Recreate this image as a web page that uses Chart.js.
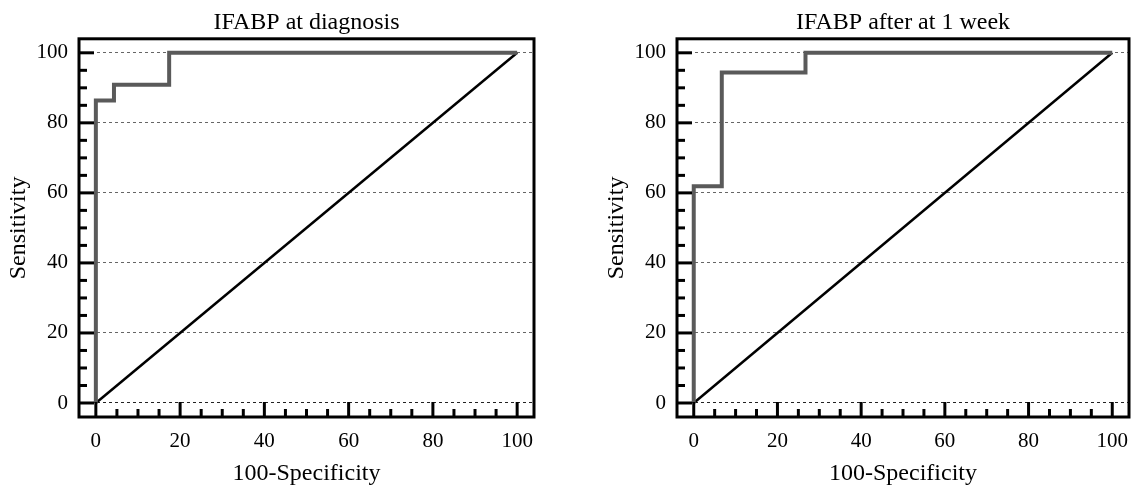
<!DOCTYPE html>
<html>
<head>
<meta charset="utf-8">
<script src="https://cdn.jsdelivr.net/npm/chart.js@4.4.1/dist/chart.umd.min.js"></script>
<style>
  html, body { margin: 0; padding: 0; background: #fff; }
  #wrap { position: relative; width: 1137px; height: 488px; }
  canvas { position: absolute; top: 0; }
</style>
</head>
<body>
<div id="wrap">
  <canvas id="left" width="568" height="488" style="left:0"></canvas>
  <canvas id="right" width="569" height="488" style="left:568px"></canvas>
</div>
<script>
// ROC points (100-specificity, sensitivity)
const diagFpr = [0, 0, 4.3, 17.4, 100];
const diagSens = [0, 86.4, 90.9, 100, 100];
const weekFpr = [0, 0, 6.7, 26.7, 100];
const weekSens = [0, 61.9, 94.4, 100, 100];
const refLine = [0, 100];

const majorTicks = [0, 20, 40, 60, 80, 100];
const minorTicks = [5, 10, 15, 25, 30, 35, 45, 50, 55, 65, 70, 75, 85, 90, 95];
const titles = ["IFABP at diagnosis", "IFABP after at 1 week"];

const FONT = "'Liberation Serif', 'Times New Roman', serif";

// box + inward tick marks, like the original plot
const framePlugin = {
    id: 'frame',
    afterDraw(chart) {
        const {ctx, chartArea: a, scales: {x, y}} = chart;
        ctx.save();
        ctx.strokeStyle = '#000';
        ctx.lineWidth = 3;
        ctx.lineCap = 'butt';
        const drawTick = (v, len, horiz) => {
            ctx.beginPath();
            if (horiz) {
                const py = y.getPixelForValue(v);
                ctx.moveTo(a.left, py);
                ctx.lineTo(a.left + len, py);
            } else {
                const px = x.getPixelForValue(v);
                ctx.moveTo(px, a.bottom);
                ctx.lineTo(px, a.bottom - len);
            }
            ctx.stroke();
        };
        majorTicks.forEach(v => { drawTick(v, 15, true); drawTick(v, 15, false); });
        minorTicks.forEach(v => { drawTick(v, 8, true); drawTick(v, 8, false); });
        ctx.strokeRect(a.left, a.top, a.right - a.left, a.bottom - a.top);
        ctx.restore();
    }
};

function makeChart(canvasId, title, fpr, sens, padLeft, padRight) {
    new Chart(document.getElementById(canvasId), {
        type: 'line',
        data: {
            datasets: [
                { label: 'ROC',
                  data: fpr.map((v, i) => ({x: v, y: sens[i]})),
                  borderColor: '#5a5a5a',
                  borderWidth: 4,
                  stepped: 'before',
                  pointRadius: 0,
                  fill: false
                },
                { label: 'reference',
                  data: refLine.map(v => ({x: v, y: v})),
                  borderColor: '#000',
                  borderWidth: 2.5,
                  pointRadius: 0,
                  fill: false
                }
            ]
        },
        options: {
            responsive: false,
            animation: false,
            layout: { padding: { left: padLeft, right: padRight, top: 0, bottom: 0 } },
            plugins: {
                legend: { display: false },
                tooltip: { enabled: false },
                title: {
                    display: true,
                    fullSize: false,   // centre over the plot box, not the canvas
                    text: title,
                    color: '#000',
                    font: { family: FONT, size: 24, weight: 'normal' },
                    padding: { top: 8, bottom: 2 }
                }
            },
            scales: {
                x: {
                    type: 'linear',
                    min: -4,
                    max: 104,
                    afterBuildTicks: s => { s.ticks = majorTicks.map(v => ({value: v})); },
                    afterFit: s => { s.height = 71; },
                    grid: { display: false },
                    border: { display: false },
                    ticks: { color: '#000', padding: 4, maxRotation: 0,
                             font: { family: FONT, size: 21 } },
                    title: { display: true, text: '100-Specificity', color: '#000',
                             font: { family: FONT, size: 24 },
                             padding: { top: 0, bottom: 0 } }
                },
                y: {
                    type: 'linear',
                    min: -4,
                    max: 104,
                    afterBuildTicks: s => { s.ticks = majorTicks.map(v => ({value: v})); },
                    afterFit: s => { s.width = 79; },
                    grid: {
                        drawTicks: false,
                        lineWidth: 1,
                        color: c => (c.tick && c.tick.value === 0) ? '#222' : '#666'
                    },
                    border: { display: false, dash: [3, 3] },
                    ticks: { color: '#000', padding: 11,
                             font: { family: FONT, size: 21 } },
                    title: { display: true, text: 'Sensitivity', color: '#000',
                             font: { family: FONT, size: 24 },
                             padding: { top: 4, bottom: 0 } }
                }
            }
        },
        plugins: [framePlugin]
    });
}

makeChart('left', titles[0], diagFpr, diagSens, 0, 34);
makeChart('right', titles[1], weekFpr, weekSens, 30, 8);
</script>
</body>
</html>
